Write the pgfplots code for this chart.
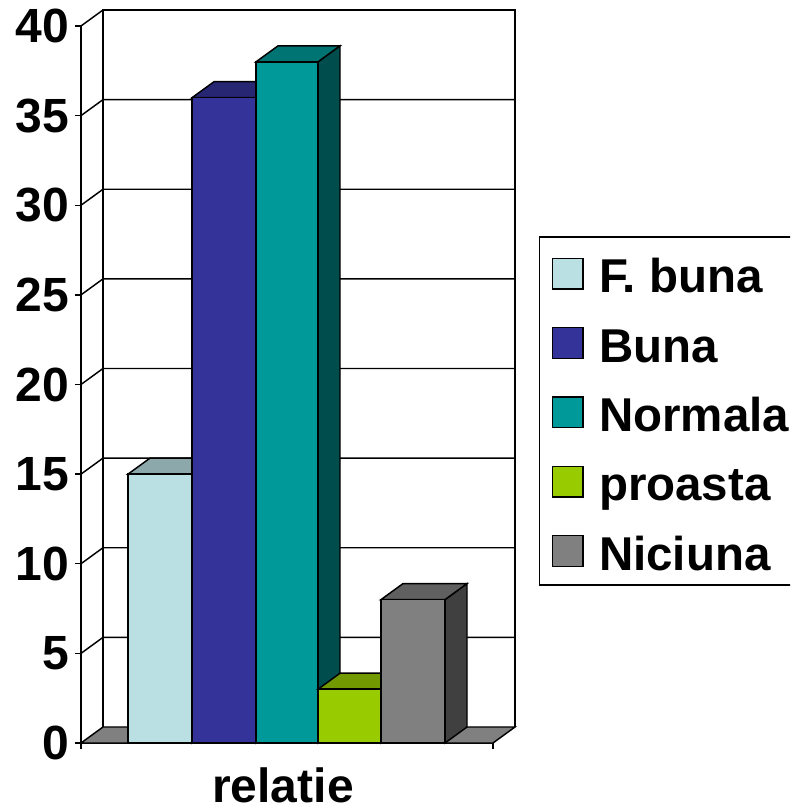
\documentclass[border=0pt]{standalone}
\usepackage{fontspec}
\setmainfont{Liberation Sans}
\usepackage{pgfplots}
\pgfplotsset{compat=1.18}
\definecolor{cF}{HTML}{BBE0E3}\definecolor{cFt}{HTML}{8CA8AA}\definecolor{cFs}{HTML}{5E7072}
\definecolor{cB}{HTML}{333399}\definecolor{cBt}{HTML}{262673}\definecolor{cBs}{HTML}{1A1A4D}
\definecolor{cN}{HTML}{009999}\definecolor{cNt}{HTML}{007373}\definecolor{cNs}{HTML}{004D4D}
\definecolor{cP}{HTML}{99CC00}\definecolor{cPt}{HTML}{739900}\definecolor{cPs}{HTML}{4D6600}
\definecolor{cG}{HTML}{808080}\definecolor{cGt}{HTML}{606060}\definecolor{cGs}{HTML}{404040}
\begin{document}
\begin{tikzpicture}
\path[use as bounding box] (-60.75pt,-50.25pt) rectangle (531.75pt,557.25pt);
\clip (-60.75pt,-50.25pt) rectangle (531.75pt,557.25pt);
\begin{axis}[
  at={(0,0)},anchor=south west,
  scale only axis,width=309pt,height=537.75pt,
  xmin=81,xmax=493,ymin=0,ymax=40,
  axis x line=bottom,axis y line=left,
  axis line style={-,line width=1.1pt},
  clip=false,
  xtick={81,493},xticklabels={,},
  ytick={0,5,...,40},
  tick align=outside,major tick length=4.5pt,
  tick style={black,line width=1.1pt},
  /pgf/number format/assume math mode=true,
  tick label style={font=\fontsize{36}{40}\selectfont\bfseries},
  yticklabel style={xshift=-1pt},
  xlabel={relatie},
  xlabel style={font=\fontsize{36}{40}\selectfont\bfseries,xshift=-3pt,yshift=-3.5pt},
  legend style={
    at={(axis cs:539,28.28)},anchor=north west,
    draw=black,line width=1.1pt,fill=white,
    font=\fontsize{35.6}{40}\selectfont\bfseries,
    row sep=14pt,inner xsep=9pt,inner ysep=7.5pt,
    nodes={text height=34.5pt,text depth=3.5pt,inner sep=0pt},
  },
  legend cell align=left,
  legend image code/.code={\draw[#1,line width=1pt] (0pt,-12.7pt) rectangle (23pt,10.3pt);\path[draw=none,fill=none] (0pt,0pt) -- (35pt,0pt);},
]
% floor
\addplot[fill=cG,draw=black,line width=1.1pt,forget plot] coordinates {(81,0)(103,0.893)(515,0.893)(493,0)} --cycle;
% walls
\addplot[black,line width=1.1pt,forget plot] coordinates {(103,0.893)(103,40.893)(515,40.893)(515,0.893)};
% gridlines
\addplot[black,line width=1.1pt,forget plot] coordinates {(81,5)(103,5.893)(515,5.893)};
\addplot[black,line width=1.1pt,forget plot] coordinates {(81,10)(103,10.893)(515,10.893)};
\addplot[black,line width=1.1pt,forget plot] coordinates {(81,15)(103,15.893)(515,15.893)};
\addplot[black,line width=1.1pt,forget plot] coordinates {(81,20)(103,20.893)(515,20.893)};
\addplot[black,line width=1.1pt,forget plot] coordinates {(81,25)(103,25.893)(515,25.893)};
\addplot[black,line width=1.1pt,forget plot] coordinates {(81,30)(103,30.893)(515,30.893)};
\addplot[black,line width=1.1pt,forget plot] coordinates {(81,35)(103,35.893)(515,35.893)};
\addplot[black,line width=1.1pt,forget plot] coordinates {(81,40)(103,40.893)};
% F. buna = 15
\addplot[fill=cFs,draw=black,line width=1.1pt,forget plot] coordinates {(192,0)(214,0.893)(214,15.893)(192,15)} --cycle;
\addplot[fill=cFt,draw=black,line width=1.1pt,forget plot] coordinates {(128,15)(192,15)(214,15.893)(150,15.893)} --cycle;
\addplot[fill=cF,draw=black,line width=1.1pt] coordinates {(128,0)(192,0)(192,15)(128,15)} --cycle;
\addlegendentry{F. buna}
% Buna = 36
\addplot[fill=cBs,draw=black,line width=1.1pt,forget plot] coordinates {(256,0)(278,0.893)(278,36.893)(256,36)} --cycle;
\addplot[fill=cBt,draw=black,line width=1.1pt,forget plot] coordinates {(192,36)(256,36)(278,36.893)(214,36.893)} --cycle;
\addplot[fill=cB,draw=black,line width=1.1pt] coordinates {(192,0)(256,0)(256,36)(192,36)} --cycle;
\addlegendentry{Buna}
% Normala = 38
\addplot[fill=cNs,draw=black,line width=1.1pt,forget plot] coordinates {(318,0)(340,0.893)(340,38.893)(318,38)} --cycle;
\addplot[fill=cNt,draw=black,line width=1.1pt,forget plot] coordinates {(256,38)(318,38)(340,38.893)(278,38.893)} --cycle;
\addplot[fill=cN,draw=black,line width=1.1pt] coordinates {(256,0)(318,0)(318,38)(256,38)} --cycle;
\addlegendentry{Normala\hspace*{10pt}}
% proasta = 3
\addplot[fill=cPs,draw=black,line width=1.1pt,forget plot] coordinates {(381,0)(403,0.893)(403,3.893)(381,3)} --cycle;
\addplot[fill=cPt,draw=black,line width=1.1pt,forget plot] coordinates {(318,3)(381,3)(403,3.893)(340,3.893)} --cycle;
\addplot[fill=cP,draw=black,line width=1.1pt] coordinates {(318,0)(381,0)(381,3)(318,3)} --cycle;
\addlegendentry{proasta}
% Niciuna = 8
\addplot[fill=cGs,draw=black,line width=1.1pt,forget plot] coordinates {(445,0)(467,0.893)(467,8.893)(445,8)} --cycle;
\addplot[fill=cGt,draw=black,line width=1.1pt,forget plot] coordinates {(381,8)(445,8)(467,8.893)(403,8.893)} --cycle;
\addplot[fill=cG,draw=black,line width=1.1pt] coordinates {(381,0)(445,0)(445,8)(381,8)} --cycle;
\addlegendentry{Niciuna}
\end{axis}
\end{tikzpicture}
\end{document}
